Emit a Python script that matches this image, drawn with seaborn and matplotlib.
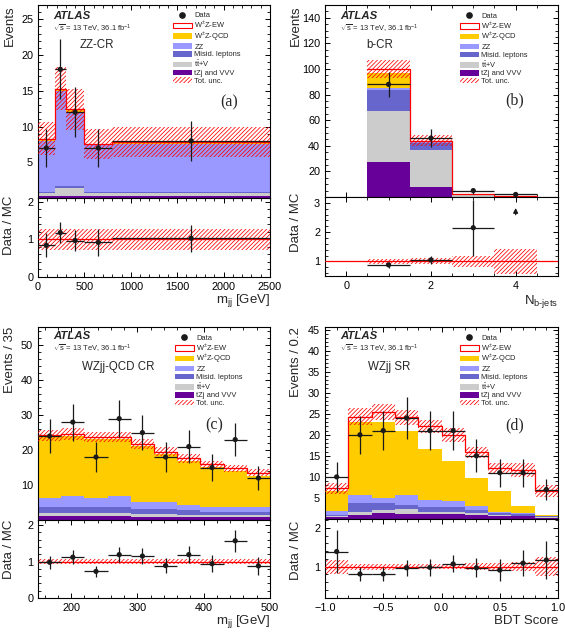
import numpy as np
import pandas as pd
import matplotlib
matplotlib.use("Agg")
import matplotlib.pyplot as plt
import seaborn as sns
from matplotlib.ticker import MultipleLocator, FixedLocator
from matplotlib.patches import Patch
from matplotlib.lines import Line2D

# ---------------- data ----------------
order = ["EW", "QCD", "ZZ", "MIS", "TTV", "TZJ"]
labels = {"EW": "W$^{\\pm}$Z-EW", "QCD": "W$^{\\pm}$Z-QCD", "ZZ": "ZZ",
          "MIS": "Misid. leptons", "TTV": "t$\\bar{\\mathrm{t}}$+V", "TZJ": "tZj and VVV"}
palette = {"EW": "#ffffff", "QCD": "#ffcc00", "ZZ": "#9999ff",
           "MIS": "#6666cc", "TTV": "#cccccc", "TZJ": "#660099"}

# (a) ZZ-CR, m_jj
edges_a = [0, 180, 300, 500, 800, 2500]
tzj_a = [0.25, 0.3, 0.3, 0.25, 0.25]
ttv_a = [0.5, 1.1, 1.1, 0.5, 0.5]
mis_a = [0.05, 0.3, 0.3, 0.05, 0.05]
zz_a = [7.2, 13.25, 10.4, 6.6, 6.8]
qcd_a = [0.2, 0.25, 0.2, 0.1, 0.1]
ew_a = [0.1, 0.1, 0.1, 0.1, 0.1]
unc_a = [2.3, 3.0, 2.9, 2.1, 2.1]
data_a = [7, 18, 12, 7, 8]
derr_a = [2.6, 4.2, 3.5, 2.6, 2.8]
ratio_a = [0.84, 1.18, 0.97, 0.92, 1.03]
rerr_a = [0.32, 0.27, 0.28, 0.35, 0.36]
band_a = [0.27, 0.27, 0.27, 0.27, 0.27]

# (b) b-CR, N b-jets
edges_b = [0.5, 1.5, 2.5, 3.5, 4.5]
tzj_b = [27.5, 7.6, 0.3, 0.05]
ttv_b = [39.5, 29.2, 1.4, 0.35]
mis_b = [16.7, 5.7, 0.3, 0.05]
zz_b = [1.3, 0.5, 0.05, 0.02]
qcd_b = [11.6, 0.8, 0.1, 0.02]
ew_b = [3.1, 0.3, 0.05, 0.01]
unc_b = [7.0, 4.5, 0.4, 0.2]
data_b = [88, 46, 5, 2]
derr_b = [9.5, 6.8, 2.3, 1.5]
ratio_b = [0.88, 1.05, 2.15, np.nan]
rerr_b = [0.1, 0.15, 0.95, 0.0]
band_b = [0.08, 0.1, 0.18, 0.42]

# (c) WZjj-QCD CR, m_jj
edges_c = [150, 185, 220, 255, 290, 325, 360, 395, 430, 465, 500]
tzj_c = [1.1, 1.1, 1.1, 1.1, 1.0, 1.0, 0.9, 0.9, 0.9, 0.9]
ttv_c = [0.8, 0.8, 0.8, 0.8, 0.7, 0.7, 0.6, 0.6, 0.6, 0.6]
mis_c = [1.9, 1.9, 1.9, 1.9, 1.4, 1.4, 1.3, 0.9, 0.9, 0.9]
zz_c = [2.4, 3.1, 2.4, 3.2, 2.1, 2.1, 1.5, 1.4, 1.2, 1.2]
qcd_c = [17.6, 17.2, 17.1, 16.2, 15.9, 13.6, 12.6, 11.3, 10.4, 9.0]
ew_c = [0.4, 0.5, 0.5, 0.6, 0.6, 0.7, 0.7, 0.8, 0.8, 0.9]
unc_c = [1.6, 1.6, 1.5, 1.5, 1.4, 1.3, 1.2, 1.1, 1.0, 1.0]
data_c = [24, 28, 18, 29, 25, 18, 21, 15, 23, 12]
derr_c = [4.9, 5.3, 4.2, 5.4, 5.0, 4.2, 4.6, 3.9, 4.8, 3.5]
ratio_c = [0.98, 1.12, 0.73, 1.19, 1.15, 0.89, 1.19, 0.94, 1.57, 0.88]
rerr_c = [0.18, 0.2, 0.15, 0.21, 0.21, 0.2, 0.23, 0.23, 0.3, 0.25]
band_c = [0.065] * 10

# (d) WZjj SR, BDT score
edges_d = [-1.0, -0.8, -0.6, -0.4, -0.2, 0.0, 0.2, 0.4, 0.6, 0.8, 1.0]
tzj_d = [0.4, 1.0, 1.5, 1.3, 1.1, 1.1, 1.0, 0.7, 0.6, 0.3]
ttv_d = [0.3, 0.6, 0.7, 1.1, 0.5, 0.5, 0.4, 0.3, 0.2, 0.1]
mis_d = [0.3, 2.1, 1.5, 1.0, 1.3, 1.3, 0.85, 0.4, 0.4, 0.2]
zz_d = [0.85, 2.1, 1.3, 2.2, 1.6, 1.3, 0.95, 0.2, 0.3, 0.2]
qcd_d = [4.75, 17.3, 18.0, 15.2, 12.1, 9.5, 6.5, 5.0, 1.7, 0.1]
ew_d = [0.7, 1.2, 2.5, 3.4, 5.4, 6.3, 6.1, 5.4, 8.4, 5.7]
unc_d = [1.3, 2.0, 1.9, 1.8, 1.6, 1.6, 1.4, 1.2, 1.6, 1.4]
data_d = [10, 20, 21, 24, 21, 21, 15, 11, 11, 7]
derr_d = [3.6, 4.5, 4.6, 4.9, 4.6, 4.6, 3.9, 3.3, 3.3, 2.6]
ratio_d = [1.39, 0.81, 0.81, 0.97, 0.98, 1.07, 0.97, 0.91, 1.09, 1.17]
rerr_d = [0.55, 0.19, 0.19, 0.21, 0.21, 0.22, 0.25, 0.28, 0.33, 0.5]
band_d = [0.18, 0.08, 0.08, 0.07, 0.07, 0.07, 0.09, 0.1, 0.12, 0.24]

# ---------------- style ----------------
sns.set_theme(style="ticks")
plt.rcParams["font.family"] = ["Liberation Sans", "DejaVu Sans"]
plt.rcParams.update({
    "mathtext.fontset": "custom",
    "mathtext.rm": "Liberation Sans",
    "mathtext.it": "Liberation Sans:italic",
    "mathtext.bf": "Liberation Sans:bold",
    "hatch.color": "red",
    "hatch.linewidth": 0.55,
    "axes.linewidth": 0.8,
    "xtick.direction": "in", "ytick.direction": "in",
    "xtick.top": True, "ytick.right": True,
    "xtick.major.size": 3.8, "ytick.major.size": 3.8,
    "xtick.minor.size": 2.0, "ytick.minor.size": 2.0,
    "xtick.major.width": 0.7, "ytick.major.width": 0.7,
    "xtick.minor.width": 0.6, "ytick.minor.width": 0.6,
    "xtick.labelsize": 7.8, "ytick.labelsize": 7.8,
    "xtick.color": "black", "ytick.color": "black",
    "axes.edgecolor": "black",
})

W, H = 565, 633
fig = plt.figure(figsize=(W / 100, H / 100), dpi=100)


def box(l, r, t, b):
    return [l / W, 1 - b / H, (r - l) / W, (b - t) / H]


def fx(x):
    return x / W


def fy(y):
    return 1 - y / H


HATCH = "////////"


def panel(mbox, rbox, edges, comps, unc, data, derr, ratio, rerr, band,
          xlim, ylim, yticks, yminor, rylim, rticks, xmajor, xminor,
          ylab, xlab, xlab_y, ylab_x, rylab_x, rylab_y, legend_x, legend_top):
    bins = [float(e) for e in edges]
    edges = np.asarray(bins)
    centers = (edges[:-1] + edges[1:]) / 2
    hw = (edges[1:] - edges[:-1]) / 2
    axm = fig.add_axes(box(*mbox))
    axr = fig.add_axes(box(*rbox))

    rows = []
    for key in order:
        for c, v in zip(centers, comps[key]):
            rows.append((float(c), float(v), key))
    df = pd.DataFrame(rows, columns=["x", "w", "proc"])
    sns.histplot(df, x="x", weights="w", hue="proc", hue_order=order, bins=bins,
                 multiple="stack", element="step", fill=True, palette=palette,
                 alpha=1, linewidth=0, legend=False, ax=axm)
    total = np.sum([np.asarray(comps[k], float) for k in order], axis=0)
    dft = pd.DataFrame({"x": centers, "w": total})
    sns.histplot(dft, x="x", weights="w", bins=bins, element="step", fill=False,
                 color="red", linewidth=0.9, ax=axm)
    unc = np.asarray(unc, float)
    lo = np.append(total - unc, (total - unc)[-1])
    hi = np.append(total + unc, (total + unc)[-1])
    axm.fill_between(edges, lo, hi, step="post", facecolor="none", edgecolor="red",
                     hatch=HATCH, linewidth=0, zorder=3)
    axm.errorbar(centers, data, yerr=derr, xerr=hw, fmt="none", ecolor="k",
                 elinewidth=0.9, capsize=0, zorder=4)
    sns.scatterplot(x=centers, y=np.asarray(data, float), color="k", s=14,
                    edgecolor="none", ax=axm, zorder=5)

    axm.set_xlim(*xlim)
    axm.set_ylim(*ylim)
    axm.yaxis.set_major_locator(FixedLocator(yticks))
    axm.yaxis.set_minor_locator(MultipleLocator(yminor))
    axm.xaxis.set_major_locator(MultipleLocator(xmajor))
    axm.xaxis.set_minor_locator(MultipleLocator(xminor))
    axm.tick_params(labelbottom=False, which="both", direction="in", top=True, right=True)
    axm.set_xlabel("")
    axm.set_ylabel(ylab, fontsize=9.5, loc="top")
    axm.yaxis.set_label_coords(ylab_x, 1.0)

    # ratio
    band = np.asarray(band, float)
    rlo = np.append(1 - band, 1 - band[-1])
    rhi = np.append(1 + band, 1 + band[-1])
    axr.fill_between(edges, rlo, rhi, step="post", facecolor="none", edgecolor="red",
                     hatch=HATCH, linewidth=0, zorder=2)
    axr.axhline(1, color="red", lw=0.9, zorder=3)
    ratio = np.asarray(ratio, float)
    ok = ~np.isnan(ratio)
    axr.errorbar(centers[ok], ratio[ok], yerr=np.asarray(rerr, float)[ok], xerr=hw[ok],
                 fmt="none", ecolor="k", elinewidth=0.9, capsize=0, zorder=4)
    sns.scatterplot(x=centers[ok], y=ratio[ok], color="k", s=14, edgecolor="none",
                    ax=axr, zorder=5)
    axr.set_xlim(*xlim)
    axr.set_ylim(*rylim)
    axr.yaxis.set_major_locator(FixedLocator(rticks))
    axr.yaxis.set_minor_locator(MultipleLocator(0.2))
    axr.xaxis.set_major_locator(MultipleLocator(xmajor))
    axr.xaxis.set_minor_locator(MultipleLocator(xminor))
    axr.tick_params(which="both", direction="in", top=True, right=True)
    axr.set_ylabel("Data / MC", fontsize=9.5, loc="top")
    axr.yaxis.set_label_coords(rylab_x, rylab_y)
    axr.set_xlabel(xlab, fontsize=9.5, loc="right")
    axr.xaxis.set_label_coords(1.0, xlab_y)

    handles = [Line2D([], [], marker="o", color="k", ls="none", ms=3.8)]
    for k in order:
        if k == "EW":
            handles.append(Patch(facecolor="white", edgecolor="red", lw=0.8))
        else:
            handles.append(Patch(facecolor=palette[k], edgecolor="none"))
    handles.append(Patch(facecolor="none", edgecolor="red", hatch=HATCH, lw=0))
    lab = ["Data"] + [labels[k] for k in order] + ["Tot. unc."]
    axm.legend(handles, lab, loc="upper left", bbox_to_anchor=(fx(legend_x), fy(legend_top)),
               bbox_transform=fig.transFigure, frameon=False, fontsize=5.4,
               handlelength=2.5, handleheight=0.75, handletextpad=0.35,
               labelspacing=0.05, borderpad=0, borderaxespad=0)
    return axm, axr


comps_a = dict(EW=ew_a, QCD=qcd_a, ZZ=zz_a, MIS=mis_a, TTV=ttv_a, TZJ=tzj_a)
comps_b = dict(EW=ew_b, QCD=qcd_b, ZZ=zz_b, MIS=mis_b, TTV=ttv_b, TZJ=tzj_b)
comps_c = dict(EW=ew_c, QCD=qcd_c, ZZ=zz_c, MIS=mis_c, TTV=ttv_c, TZJ=tzj_c)
comps_d = dict(EW=ew_d, QCD=qcd_d, ZZ=zz_d, MIS=mis_d, TTV=ttv_d, TZJ=tzj_d)

axa, axar = panel((38, 270, 5, 198), (38, 270, 198, 277), edges_a, comps_a, unc_a,
                  data_a, derr_a, ratio_a, rerr_a, band_a,
                  (0, 2500), (0, 27), [5, 10, 15, 20, 25], 1, (0, 2.1), [0, 1, 2], 500, 100,
                  "Events", "m$_{\\mathrm{jj}}$ [GeV]", -0.19, -0.095, -0.1, 1.03, 173, 12)
axb, axbr = panel((325, 558, 5, 197), (325, 558, 197, 276), edges_b, comps_b, unc_b,
                  data_b, derr_b, ratio_b, rerr_b, band_b,
                  (-0.5, 5), (0, 150), [20, 40, 60, 80, 100, 120, 140], 5, (0.5, 3.2), [1, 2, 3], 2, 0.5,
                  "Events", "N$_{\\mathrm{b}\\text{-}\\mathrm{jets}}$", -0.21, -0.1, -0.1, 1.05, 460, 12.5)
axc, axcr = panel((38, 270, 327, 520), (38, 270, 520, 598), edges_c, comps_c, unc_c,
                  data_c, derr_c, ratio_c, rerr_c, band_c,
                  (150, 500), (0, 55.2), [10, 20, 30, 40, 50], 2, (0, 2.14), [0, 1, 2], 100, 20,
                  "Events / 35", "m$_{\\mathrm{jj}}$ [GeV]", -0.19, -0.095, -0.1, 1.0, 175, 334.5)
axd, axdr = panel((325, 558, 327, 519), (325, 558, 519, 598), edges_d, comps_d, unc_d,
                  data_d, derr_d, ratio_d, rerr_d, band_d,
                  (-1, 1), (0, 45.6), [5, 10, 15, 20, 25, 30, 35, 40, 45], 1, (0.19, 2.23), [1, 2], 0.5, 0.1,
                  "Events / 0.2", "BDT Score", -0.22, -0.1, -0.1, 0.98, 460, 334.5)

# arrow for off-scale ratio point in (b)
axbr.annotate("", xy=(4, 2.92), xytext=(4, 2.5),
              arrowprops=dict(arrowstyle="-|>", color="k", lw=0.9, mutation_scale=7))
axbr.set_xticks([0, 2, 4])

# text annotations
for (ax_l, ytop, reg, rx, ry, tag, tx, ty) in [
        (53, 16, "ZZ-CR", 80, 45, "(a)", 220, 102),
        (340, 16, "b-CR", 366, 45, "(b)", 505, 100),
        (53, 336, "WZjj-QCD CR", 82, 367, "(c)", 205, 425),
        (340, 336, "WZjj SR", 368, 367, "(d)", 505, 425)]:
    fig.text(fx(ax_l), fy(ytop), "ATLAS", fontsize=8.2, fontweight="bold",
             fontstyle="italic", va="center", ha="left")
    fig.text(fx(ax_l), fy(ytop + 13), "$\\sqrt{\\mathrm{s}}$ = 13 TeV, 36.1 fb$^{-1}$",
             fontsize=5.4, va="center", ha="left")
    fig.text(fx(rx), fy(ry), reg, fontsize=8.3, va="center", ha="left")
    fig.text(fx(tx), fy(ty), tag, fontsize=11.5, family=["Liberation Serif", "DejaVu Serif"],
             va="center", ha="left")

fig.savefig("out.png", dpi=100)
